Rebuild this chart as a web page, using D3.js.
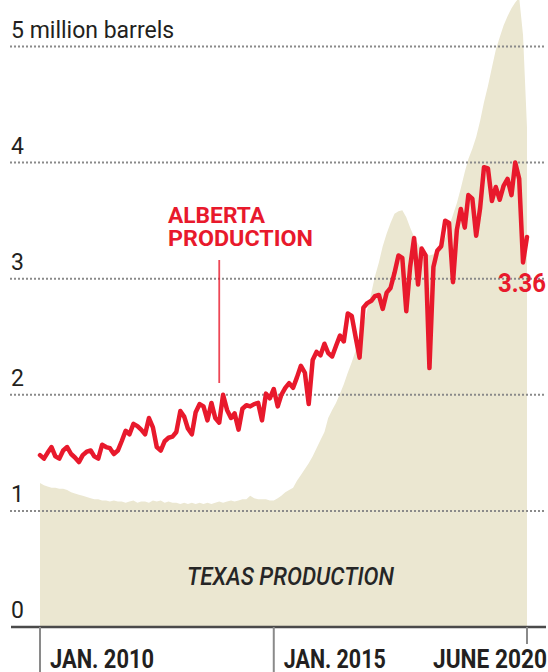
<!DOCTYPE html>
<html>
<head>
<meta charset="utf-8">
<script src="https://cdn.jsdelivr.net/npm/d3@7"></script>
<style>
  html, body { margin: 0; padding: 0; background: #fff; }
  svg { display: block; }
</style>
</head>
<body>
<script>
// Monthly crude production, million barrels per day, Jan. 2010 – June 2020
const startMonth = new Date(2010, 0, 1);
const endMonth = new Date(2020, 5, 1);

const albertaValues = [
  1.48, 1.45, 1.50, 1.55, 1.47, 1.45, 1.52, 1.55, 1.49, 1.46, 1.42, 1.48,
  1.51, 1.52, 1.47, 1.45, 1.57, 1.55, 1.54, 1.49, 1.52, 1.60, 1.69, 1.66,
  1.75, 1.73, 1.70, 1.66, 1.80, 1.72, 1.55, 1.52, 1.60, 1.63, 1.64, 1.68,
  1.86, 1.81, 1.71, 1.66, 1.85, 1.92, 1.90, 1.78, 1.93, 1.80, 1.76, 2.00,
  1.87, 1.80, 1.84, 1.70, 1.88, 1.91, 1.90, 1.92, 1.93, 1.78, 2.01, 1.97,
  2.05, 1.90, 2.00, 2.06, 2.10, 2.06, 2.15, 2.25, 2.19, 1.92, 2.30, 2.37,
  2.34, 2.44, 2.36, 2.33, 2.42, 2.51, 2.46, 2.70, 2.68, 2.50, 2.32, 2.75,
  2.79, 2.81, 2.85, 2.86, 2.74, 2.88, 2.92, 3.05, 3.20, 3.18, 2.72, 3.10,
  3.35, 2.95, 3.26, 3.20, 2.23, 3.10, 3.24, 3.28, 3.50, 3.48, 2.97, 3.42,
  3.60, 3.44, 3.72, 3.69, 3.37, 3.61, 3.96, 3.95, 3.67, 3.79, 3.68, 3.80,
  3.86, 3.72, 4.00, 3.86, 3.14, 3.36
];

const texasValues = [
  1.24, 1.22, 1.21, 1.20, 1.20, 1.19, 1.19, 1.18, 1.16, 1.15, 1.14, 1.13,
  1.12, 1.11, 1.10, 1.10, 1.09, 1.09, 1.08, 1.09, 1.08, 1.08, 1.07, 1.08,
  1.09, 1.07, 1.08, 1.08, 1.07, 1.09, 1.08, 1.09, 1.07, 1.08, 1.07, 1.07,
  1.06, 1.07, 1.06, 1.07, 1.06, 1.07, 1.06, 1.07, 1.06, 1.07, 1.08, 1.07,
  1.08, 1.09, 1.08, 1.09, 1.10, 1.10, 1.13, 1.11, 1.10, 1.10, 1.10, 1.09,
  1.09, 1.11, 1.13, 1.16, 1.18, 1.20, 1.26, 1.31, 1.36, 1.41, 1.47, 1.54,
  1.61, 1.68, 1.80, 1.87, 1.93, 2.01, 2.09, 2.19, 2.28, 2.38, 2.48, 2.60,
  2.74, 2.88, 3.02, 3.14, 3.28, 3.39, 3.48, 3.56, 3.58, 3.59, 3.53, 3.44,
  3.36, 3.30, 3.25, 3.22, 3.20, 3.21, 3.24, 3.28, 3.35, 3.45, 3.55, 3.65,
  3.78, 3.92, 4.03, 4.12, 4.22, 4.36, 4.52, 4.66, 4.82, 4.97, 5.08, 5.18,
  5.26, 5.33, 5.38, 5.42, 5.10, 4.30
];

const yTicks = [0, 1, 2, 3, 4, 5];
const yTickLabels = ["0", "1", "2", "3", "4", "5 million barrels"];
const xTickDates = [new Date(2010, 0, 1), new Date(2015, 0, 1), new Date(2020, 5, 1)];
const xTickLabels = ["JAN. 2010", "JAN. 2015", "JUNE 2020"];

const albertaLabel = ["ALBERTA", "PRODUCTION"];
const albertaPointer = new Date(2013, 10, 1);
const texasLabel = "TEXAS PRODUCTION";
const lastLabel = "3.36";

const months = d3.timeMonth.range(startMonth, d3.timeMonth.offset(endMonth, 1));
const alberta = months.map((d, i) => ({ date: d, value: albertaValues[i] }));
const texas = months.map((d, i) => ({ date: d, value: texasValues[i] }));

const W = 548, H = 672;
const RED = "#e8192c";
const INK = "#231f20";

const svg = d3.select("body").append("svg")
  .attr("width", W).attr("height", H)
  .attr("viewBox", `0 0 ${W} ${H}`);

const x = d3.scaleTime().domain([startMonth, endMonth]).range([40, 527]);
const y = d3.scaleLinear().domain([0, 5]).range([627, 46.5]);

// Texas: filled area
svg.append("path")
  .datum(texas)
  .attr("fill", "#ebe7d1")
  .attr("d", d3.area()
    .x(d => x(d.date))
    .y0(y(0))
    .y1(d => y(d.value)));

// Dotted gridlines (skip zero, which is the axis line)
svg.append("g")
  .selectAll("line")
  .data(yTicks.filter(t => t > 0))
  .join("line")
  .attr("x1", 10).attr("x2", 546)
  .attr("y1", d => y(d)).attr("y2", d => y(d))
  .attr("stroke", "#8a8a8a")
  .attr("stroke-width", 2)
  .attr("stroke-dasharray", "2,2");

// Y labels sit above their gridlines
svg.append("g")
  .selectAll("text")
  .data(yTicks)
  .join("text")
  .attr("x", 11)
  .attr("y", d => y(d) - 9)
  .attr("font-family", "Roboto, 'Noto Sans', sans-serif")
  .attr("font-size", 23)
  .attr("fill", INK)
  .text((d, i) => yTickLabels[i]);

// Baseline
svg.append("line")
  .attr("x1", 11).attr("x2", 546)
  .attr("y1", y(0)).attr("y2", y(0))
  .attr("stroke", "#4a4a4a")
  .attr("stroke-width", 2.5);

// X ticks
const tickLen = [45, 45, 17];
svg.append("g")
  .selectAll("line")
  .data(xTickDates)
  .join("line")
  .attr("x1", d => x(d)).attr("x2", d => x(d))
  .attr("y1", y(0)).attr("y2", (d, i) => y(0) + tickLen[i])
  .attr("stroke", "#8a8a8a")
  .attr("stroke-width", 2);

// X tick labels: condensed bold
const tickLabelWidth = [104, 102, 114];
svg.append("g")
  .selectAll("text")
  .data(xTickDates)
  .join("text")
  .attr("x", (d, i) => i < 2 ? x(d) + 10 : x(d) + 20)
  .attr("y", 668)
  .attr("text-anchor", (d, i) => i < 2 ? "start" : "end")
  .attr("font-family", "Roboto, 'Noto Sans', sans-serif")
  .attr("font-weight", 700)
  .attr("font-size", 25)
  .attr("fill", INK)
  .attr("textLength", (d, i) => tickLabelWidth[i])
  .attr("lengthAdjust", "spacingAndGlyphs")
  .text((d, i) => xTickLabels[i]);

// Texas label inside the area
svg.append("text")
  .attr("x", 187).attr("y", 585)
  .attr("font-family", "Roboto, 'Noto Sans', sans-serif")
  .attr("font-style", "italic")
  .attr("font-weight", 500)
  .attr("font-size", 25)
  .attr("fill", "#262626")
  .attr("textLength", 207)
  .attr("lengthAdjust", "spacingAndGlyphs")
  .text(texasLabel);

// Alberta: red line
svg.append("path")
  .datum(alberta)
  .attr("fill", "none")
  .attr("stroke", RED)
  .attr("stroke-width", 4.5)
  .attr("stroke-linejoin", "round")
  .attr("stroke-linecap", "round")
  .attr("d", d3.line()
    .x(d => x(d.date))
    .y(d => y(d.value)));

// Alberta label with leader line
const px = x(albertaPointer);
svg.append("line")
  .attr("x1", px).attr("x2", px)
  .attr("y1", 260).attr("y2", 383)
  .attr("stroke", RED)
  .attr("stroke-opacity", 0.8)
  .attr("stroke-width", 1.8);

svg.append("g")
  .selectAll("text")
  .data(albertaLabel)
  .join("text")
  .attr("x", 168)
  .attr("y", (d, i) => 223 + i * 23)
  .attr("font-family", "Roboto, 'Noto Sans', sans-serif")
  .attr("font-weight", 700)
  .attr("font-size", 22.5)
  .attr("fill", RED)
  .attr("textLength", (d, i) => i === 0 ? 97 : 145)
  .attr("lengthAdjust", "spacingAndGlyphs")
  .text(d => d);

// Final value label
svg.append("text")
  .attr("x", 546).attr("y", 292)
  .attr("text-anchor", "end")
  .attr("font-family", "Roboto, 'Noto Sans', sans-serif")
  .attr("font-weight", 700)
  .attr("font-size", 25)
  .attr("fill", RED)
  .attr("textLength", 48)
  .attr("lengthAdjust", "spacingAndGlyphs")
  .text(lastLabel);
</script>
</body>
</html>
